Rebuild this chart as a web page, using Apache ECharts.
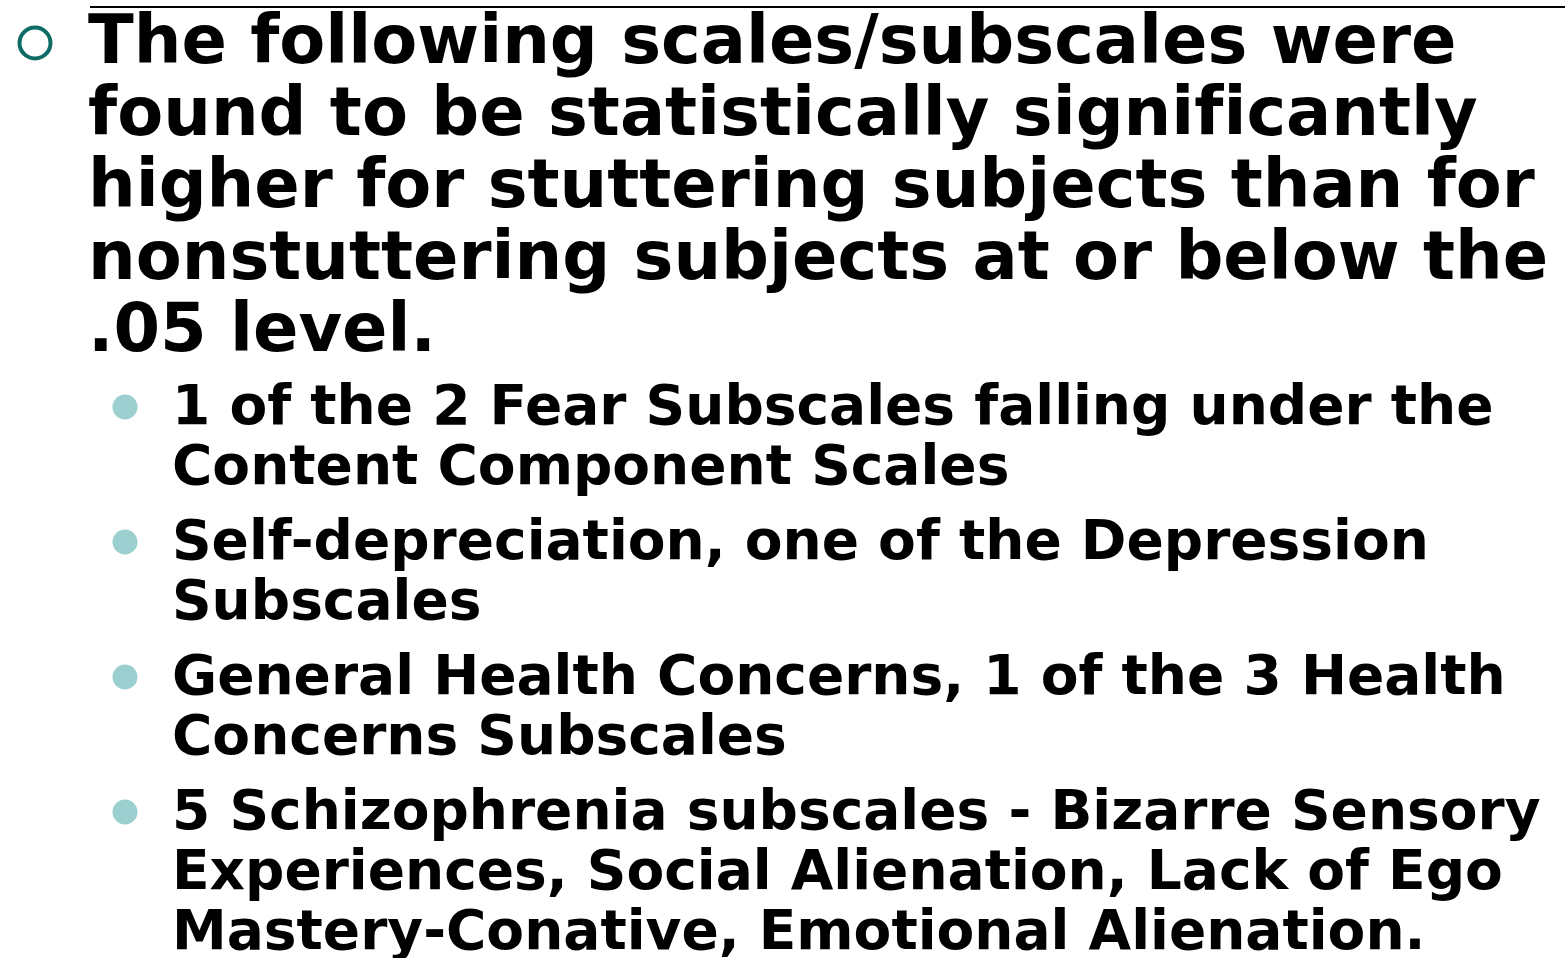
<!DOCTYPE html>
<html><head><meta charset="utf-8">
<script src="https://cdn.jsdelivr.net/npm/echarts@6/dist/echarts.min.js"></script>
<style>html,body{margin:0;padding:0;background:#fff}#c{width:1565px;height:958px}</style>
</head><body><div id="c"></div>
<script>
const mainLines = [
  "The following scales/subscales were",
  "found to be statistically signif\u200Cicantly",
  "higher for stuttering subjects than for",
  "nonstuttering subjects at or below the",
  ".05 level."
];
const subItems = [
  ["1 of the 2 Fear Subscales falling under the", "Content Component Scales"],
  ["Self-depreciation, one of the Depression", "Subscales"],
  ["General Health Concerns, 1 of the 3 Health", "Concerns Subscales"],
  ["5 Schizophrenia subscales - Bizarre Sensory", "Experiences, Social Alienation, Lack of Ego", "Mastery-Conative, Emotional Alienation."]
];

const chart = echarts.init(document.getElementById('c'), null, {renderer: 'canvas'});
const FONT = '"DejaVu Sans", Verdana, sans-serif';
const g = [];
g.push({type:'line', shape:{x1:90,y1:7,x2:1565,y2:7}, style:{stroke:'#000', lineWidth:2}});
g.push({type:'circle', shape:{cx:35,cy:43,r:15.5}, style:{fill:'none', stroke:'#0f6b66', lineWidth:4}});
mainLines.forEach((t,i)=>{
  g.push({type:'text', x:88, y:12 + i*72, style:{text:t, fill:'#000', font:'bold 67px ' + FONT, verticalAlign:'top', align:'left'}});
});
let y = 385;
subItems.forEach(item=>{
  g.push({type:'circle', shape:{cx:125, cy:y+22, r:12.5}, style:{fill:'#9ccfcf'}});
  item.forEach((t,j)=>{
    g.push({type:'text', x:172, y:y - 3 + j*60, style:{text:t, fill:'#000', font:'bold 55px ' + FONT, verticalAlign:'top', align:'left'}});
  });
  y += item.length*60 + 15;
});
chart.setOption({animation:false, graphic:{elements:g}});
</script></body></html>
